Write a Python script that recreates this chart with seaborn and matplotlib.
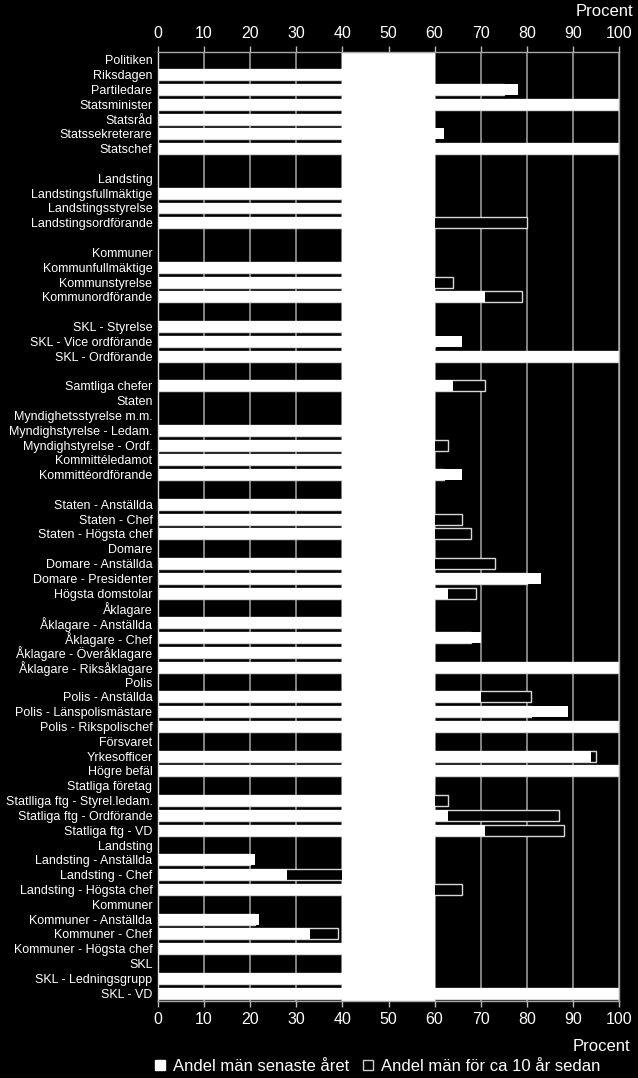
import matplotlib
matplotlib.use("Agg")
import matplotlib.pyplot as plt
import seaborn as sns
import numpy as np
import pandas as pd
from matplotlib.patches import Patch

nan = np.nan

labels = [
    "Politiken", "Riksdagen", "Partiledare", "Statsminister", "Statsråd",
    "Statssekreterare", "Statschef",
    "",
    "Landsting", "Landstingsfullmäktige", "Landstingsstyrelse", "Landstingsordförande",
    "",
    "Kommuner", "Kommunfullmäktige", "Kommunstyrelse", "Kommunordförande",
    "",
    "SKL - Styrelse", "SKL - Vice ordförande", "SKL - Ordförande",
    "",
    "Samtliga chefer", "Staten", "Myndighetsstyrelse m.m.", "Myndighstyrelse - Ledam.",
    "Myndighstyrelse - Ordf.", "Kommittéledamot", "Kommittéordförande",
    "",
    "Staten - Anställda", "Staten - Chef", "Staten - Högsta chef", "Domare",
    "Domare - Anställda", "Domare - Presidenter", "Högsta domstolar",
    "Åklagare", "Åklagare - Anställda", "Åklagare - Chef", "Åklagare - Överåklagare",
    "Åklagare - Riksåklagare",
    "Polis", "Polis - Anställda", "Polis - Länspolismästare", "Polis - Rikspolischef",
    "Försvaret", "Yrkesofficer", "Högre befäl",
    "Statliga företag", "Statlliga ftg - Styrel.ledam.", "Statliga ftg - Ordförande",
    "Statliga ftg - VD",
    "Landsting", "Landsting - Anställda", "Landsting - Chef", "Landsting - Högsta chef",
    "Kommuner", "Kommuner - Anställda", "Kommuner - Chef", "Kommuner - Högsta chef",
    "SKL", "SKL - Ledningsgrupp", "SKL - VD",
]

# Andel män senaste året (%)
current = [
    nan, 55, 78, 100, 52, 62, 100,
    nan,
    nan, 52, 55, 55,
    nan,
    nan, 58, 58, 71,
    nan,
    55, 66, 100,
    nan,
    64, nan, nan, 50, 55, 55, 66,
    nan,
    50, 58, 58, nan, 55, 83, 63,
    nan, 50, 70, 55, 100,
    nan, 70, 89, 100,
    nan, 94, 100,
    nan, 58, 63, 71,
    nan, 21, 28, 55,
    nan, 22, 33, 55,
    nan, 55, 100,
]

# Andel män för ca 10 år sedan (%)
previous = [
    nan, 57, 75, 100, 50, 58, 100,
    nan,
    nan, 52, 58, 80,
    nan,
    nan, 58, 64, 79,
    nan,
    55, 60, 100,
    nan,
    71, nan, nan, 55, 63, 55, 62,
    nan,
    52, 66, 68, nan, 73, 80, 69,
    nan, 52, 68, 58, 100,
    nan, 81, 81, 100,
    nan, 95, 100,
    nan, 63, 87, 88,
    nan, 20, 45, 66,
    nan, 21, 39, 58,
    nan, 55, 100,
]

legend_labels = ["Andel män senaste året", "Andel män för ca 10 år sedan"]
axis_title = "Procent"
xticks = [0, 10, 20, 30, 40, 50, 60, 70, 80, 90, 100]

n = len(labels)
keys = [f"r{i:02d}" for i in range(n)]
df = pd.DataFrame({"key": keys, "label": labels, "current": current, "previous": previous})
df_cur = df.dropna(subset=["current"])
df_old = df.dropna(subset=["previous"])

sns.set_theme(style="white")
plt.rcParams["font.family"] = ["Liberation Sans", "DejaVu Sans"]

fig = plt.figure(figsize=(6.38, 10.78), dpi=100, facecolor="black")
W, H = 638, 1078
left_px, right_px, top_px, bot_px = 158, 619, 52, 1001
ax = fig.add_axes([left_px / W, 1 - bot_px / H, (right_px - left_px) / W, (bot_px - top_px) / H])
ax.set_facecolor("black")

sns.barplot(data=df_old, x="previous", y="key", order=keys, orient="h",
            color="black", saturation=1, edgecolor="#d8d8d8", linewidth=1.0,
            width=0.74, errorbar=None, ax=ax)
sns.barplot(data=df_cur, x="current", y="key", order=keys, orient="h",
            color="white", saturation=1, edgecolor="white", linewidth=0,
            width=0.74, errorbar=None, ax=ax)

ax.axvspan(40, 60, color="white", zorder=2.4, lw=0)

ax.set_xlim(0, 100)
ax.set_ylim(n - 1 + 0.53, -0.53)
ax.set_yticks(range(n))
ax.set_yticklabels(labels)
ax.set_xticks(xticks)
ax.set_xlabel("")
ax.set_ylabel("")

ax.set_axisbelow(True)
ax.grid(axis="x", color="#9a9a9a", lw=1.2)
ax.grid(axis="y", visible=False)

ax.tick_params(axis="y", length=0, pad=4, labelsize=9, labelcolor="white")
ax.tick_params(axis="x", top=True, labeltop=True, bottom=True, labelbottom=True,
               direction="out", length=4, width=1, color="#bbbbbb",
               labelsize=11.5, labelcolor="white", pad=4.0)

for side, sp in ax.spines.items():
    sp.set_visible(True)
    sp.set_color("#a8a8a8")
    sp.set_linewidth(1)
ax.spines["left"].set_color("#e0e0e0")

fig.text(633 / W, 1 - 11.5 / H, axis_title, ha="right", va="center", color="white", fontsize=12)
fig.text(630 / W, 1 - 1046.5 / H, axis_title, ha="right", va="center", color="white", fontsize=12)

handles = [Patch(facecolor="white", edgecolor="white", lw=1),
           Patch(facecolor="black", edgecolor="#cccccc", lw=1)]
leg = fig.legend(handles, legend_labels, loc="center", bbox_to_anchor=(377.5 / W, 1 - 1066.5 / H),
                 ncol=2, frameon=False, fontsize=12, handlelength=0.6, handleheight=0.6,
                 handletextpad=0.48, columnspacing=0.84, borderpad=0.2)
for t in leg.get_texts():
    t.set_color("white")

fig.savefig("out.png", dpi=100, facecolor="black")
